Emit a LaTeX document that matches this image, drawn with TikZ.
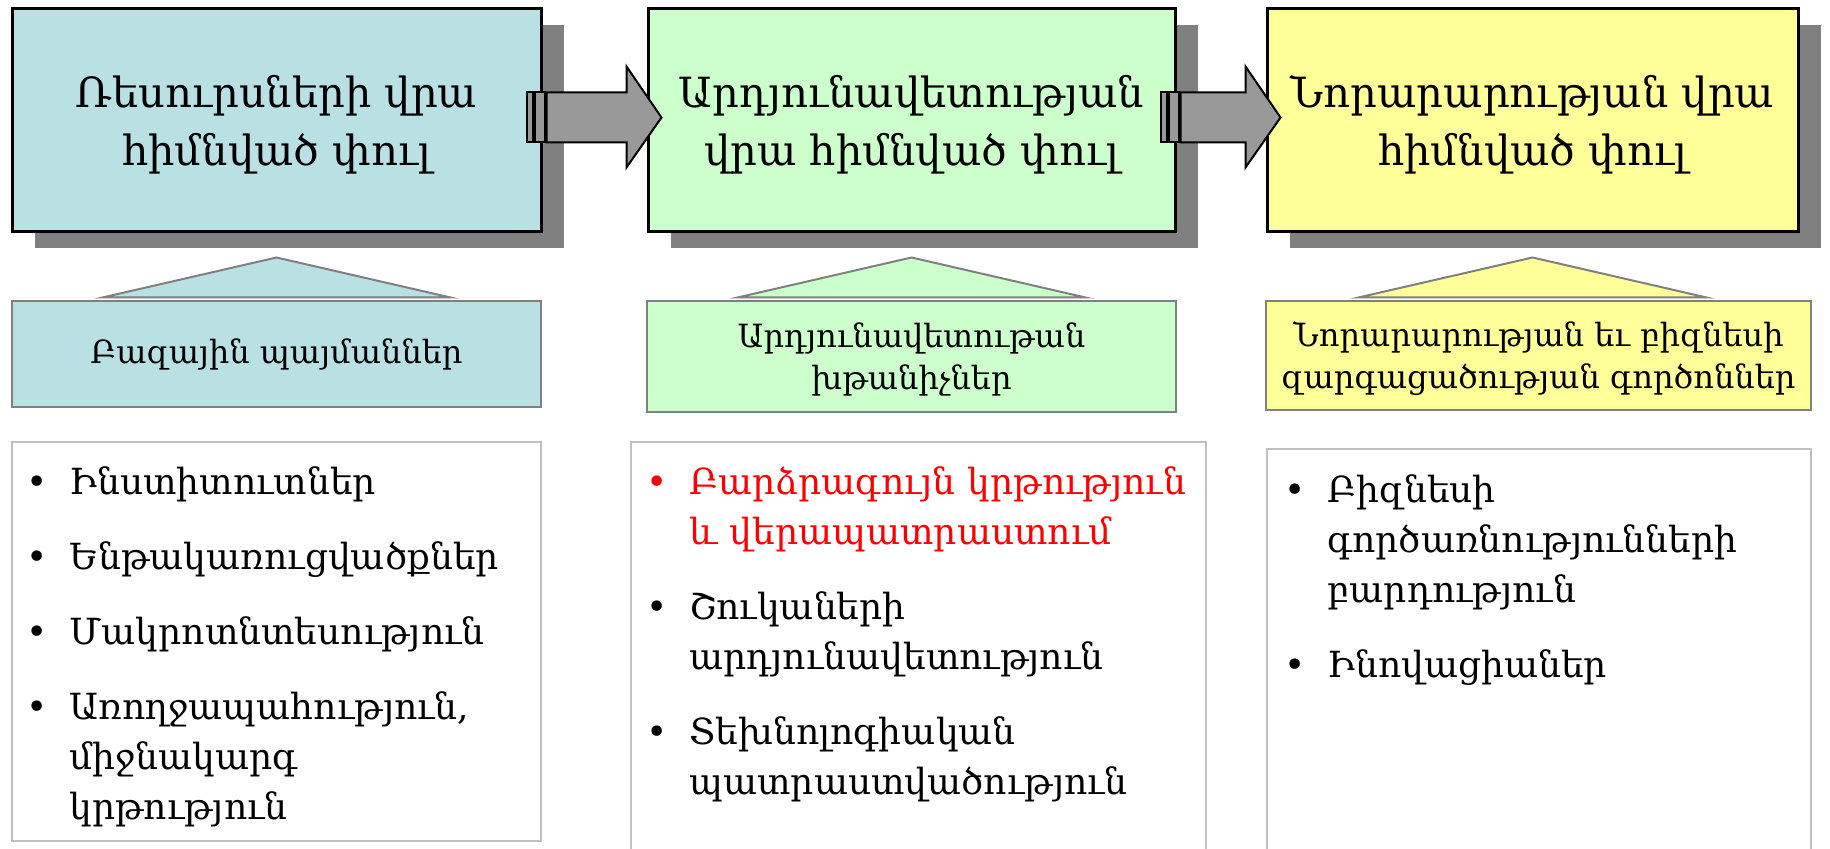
\documentclass[tikz,border=0pt]{standalone}
\usepackage{fontspec}
\setmainfont{DejaVu Serif}
\usetikzlibrary{positioning,calc,shadows}
\definecolor{resblue}{HTML}{B9E0E3}
\definecolor{effgreen}{HTML}{CCFFCC}
\definecolor{innyellow}{HTML}{FFFF99}
\definecolor{shadegray}{HTML}{808080}
\definecolor{arrowgray}{HTML}{999999}
\definecolor{framegray}{HTML}{C0C0C0}
\newcommand\bul{\leavevmode\llap{\textbullet\hspace{11pt}}}
\newcommand\headstrut[1]{\rule{0pt}{#1}}
\begin{document}
\begin{tikzpicture}[x=0.5pt,y=-0.5pt,
    stage/.style={draw,line width=1.5pt,minimum height=111.5pt,align=center,
      font=\fontsize{20.8}{29}\selectfont,
      general shadow={fill=shadegray,shadow xshift=11.5pt,shadow yshift=-8pt}},
    factor/.style={draw=shadegray,line width=1pt,align=center,font=\fontsize{16}{21}\selectfont},
    hat/.style={draw=shadegray,line width=1pt},
    itemlist/.style={draw=framegray,line width=1pt,fill=white},
    items/.style={anchor=north west,inner sep=0pt,align=left,text width=250pt,
      font=\fontsize{18}{25}\selectfont},
    fatarrow/.style={draw,line width=1pt,fill=arrowgray}]
  \useasboundingbox (0,0) rectangle (1830,849);
  \node[stage,fill=resblue,minimum width=264.5pt] (res) at (276.5,120.5)
    {\headstrut{20.5pt}Ռեսուրսների վրա\\հիմնված փուլ};
  \node[stage,fill=effgreen,minimum width=263.5pt] (eff) at (911.5,120.5)
    {\headstrut{20.5pt}Արդյունավետության\\վրա հիմնված փուլ};
  \node[stage,fill=innyellow,minimum width=265.5pt] (inn) at (1532.5,120.5)
    {\headstrut{20.5pt}Նորարարության վրա\\հիմնված փուլ};
  \foreach \a/\b in {res/eff,eff/inn}{
    \draw[fatarrow] ($(\a.east)+(-16,-28)$) rectangle ($(\a.east)+(-10,22)$);
    \draw[fatarrow] ($(\a.east)+(-8,-28)$) rectangle ($(\a.east)+(2,22)$);
    \draw[fatarrow] ($(\a.east)+(4,-28)$) -- ($(\b.west)+(-20,-28)$) -- ($(\b.west)+(-20,-54)$)
      -- ($(\b.west)+(15,-3)$) -- ($(\b.west)+(-20,47)$) -- ($(\b.west)+(-20,22)$)
      -- ($(\a.east)+(4,22)$) -- cycle;
  }
  \node[factor,fill=resblue,minimum width=264.5pt,minimum height=53pt] (resf) at (276.5,354)
    {Բազային պայմաններ};
  \node[factor,fill=effgreen,minimum width=264.5pt,minimum height=55.5pt] (efff) at (911.5,356.5)
    {\headstrut{15.5pt}Արդյունավետութան\\խթանիչներ};
  \node[factor,fill=innyellow,minimum width=272.5pt,minimum height=54.5pt] (innf) at (1538.5,355.5)
    {\headstrut{15.5pt}Նորարարության եւ բիզնեսի\\զարգացածության գործոններ};
  \foreach \s/\c in {res/resblue,eff/effgreen,inn/innyellow}
    \draw[hat,fill=\c] ($(\s.south)+(0,24)$) -- ($(\s.south)+(174,64)$) -- ($(\s.south)+(-174,64)$) -- cycle;
  \node[itemlist,minimum width=264.5pt,minimum height=199.5pt] (resl) at (276.5,641.5) {};
  \node[itemlist,minimum width=287.5pt,minimum height=214pt] (effl) at (918.5,656) {};
  \node[itemlist,minimum width=272pt,minimum height=210.5pt] (innl) at (1539,659.5) {};
  \node[items] (rest) at ($(resl.north west)+(58,25)$)
    {\bul Ինստիտուտներ\\[12.5pt]\bul Ենթակառուցվածքներ\\[12.5pt]\bul Մակրոտնտեսություն\\[12.5pt]
     \bul Առողջապահություն,\\միջնակարգ\\կրթություն};
  \node[items] (efft) at ($(effl.north west)+(59,25)$)
    {\color{red}\bul Բարձրագույն կրթություն\\և վերապատրաստում\\[12.5pt]
     \color{black}\bul Շուկաների\\արդյունավետություն\\[12.5pt]\bul Տեխնոլոգիական\\պատրաստվածություն};
  \node[items] (innt) at ($(innl.north west)+(61,26)$)
    {\bul Բիզնեսի\\գործառնությունների\\բարդություն\\[12.5pt]\bul Ինովացիաներ};
\end{tikzpicture}
\end{document}
